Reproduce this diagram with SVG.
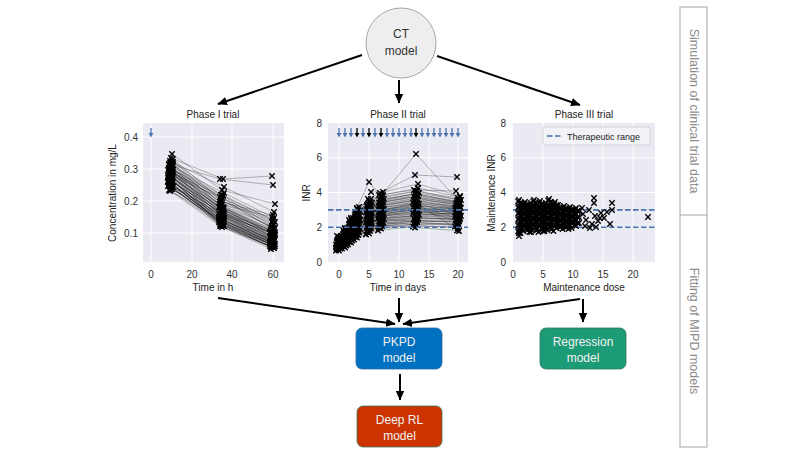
<svg xmlns="http://www.w3.org/2000/svg" xmlns:xlink="http://www.w3.org/1999/xlink" width="800" height="450" viewBox="0 0 800 450">
<style>
text{font-family:"Liberation Sans",Arial,sans-serif}
.bg{fill:#eaeaf2}
.grid{stroke:#fff;stroke-width:1}
.tk{font-size:10px;fill:#333}
.ttl{font-size:10px;fill:#222;text-anchor:middle}
.lab{font-size:10px;fill:#222;text-anchor:middle}
.tr{fill:none;stroke:#000;stroke-opacity:0.3;stroke-width:0.9;marker-start:url(#x);marker-mid:url(#x);marker-end:url(#x)}
.pts{fill:none;stroke:none;marker-start:url(#x);marker-mid:url(#x);marker-end:url(#x)}
.thr{stroke:#4c72b0;stroke-width:1.7;stroke-dasharray:5.5 2.5;fill:none}
.con{stroke:#000;stroke-width:2;fill:none;marker-end:url(#ah)}
.box{font-size:12px;fill:#f2f2f2;text-anchor:middle}
.side{font-size:12.5px;fill:#8c8c8c;text-anchor:middle}
</style>
<defs>
<marker id="x" markerUnits="userSpaceOnUse" markerWidth="8" markerHeight="8" refX="4" refY="4" viewBox="0 0 8 8" overflow="visible"><path d="M1.3,1.3L6.7,6.7M1.3,6.7L6.7,1.3" stroke="#000" stroke-width="1.4" fill="none"/></marker>
<marker id="ah" markerUnits="userSpaceOnUse" markerWidth="10" markerHeight="10" refX="9" refY="5" viewBox="0 0 10 10" orient="auto"><path d="M0,0.8L9.5,5L0,9.2z" fill="#000"/></marker>
<g id="dA"><line x1="0" y1="-5" x2="0" y2="1" stroke-width="1.3"/><path d="M-2.4,0L2.4,0L0,4.5z" stroke="none"/></g>
</defs>

<g id="connectors">
<line class="con" x1="362" y1="55" x2="218" y2="104"/>
<line class="con" x1="399" y1="80" x2="399" y2="103"/>
<line class="con" x1="437" y1="56" x2="580" y2="105"/>
<line class="con" x1="218" y1="298" x2="395" y2="324"/>
<line class="con" x1="399" y1="298" x2="399" y2="322"/>
<line class="con" x1="580" y1="299" x2="403" y2="324"/>
<line class="con" x1="583" y1="299" x2="583" y2="322"/>
<line class="con" x1="400" y1="374" x2="400" y2="400"/>
</g>

<g id="ct-model">
<circle cx="401" cy="43" r="35" fill="#eeeeee" stroke="#a6a6a6" stroke-width="1"/>
<text x="401" y="38" style="font-size:12px;fill:#333;text-anchor:middle">CT</text>
<text x="401" y="55" style="font-size:12px;fill:#333;text-anchor:middle">model</text>
</g>

<g id="phase1">
<text class="ttl" x="213" y="118">Phase I trial</text>
<rect class="bg" x="143" y="123" width="141" height="139"/>
<g class="grid">
<line x1="151" y1="123" x2="151" y2="262"/><line x1="192" y1="123" x2="192" y2="262"/><line x1="232" y1="123" x2="232" y2="262"/><line x1="273" y1="123" x2="273" y2="262"/>
<line x1="143" y1="137" x2="284" y2="137"/><line x1="143" y1="169" x2="284" y2="169"/><line x1="143" y1="201" x2="284" y2="201"/><line x1="143" y1="233" x2="284" y2="233"/>
</g>
<g class="tk" text-anchor="end">
<text x="138" y="141">0.4</text><text x="138" y="173">0.3</text><text x="138" y="205">0.2</text><text x="138" y="237">0.1</text>
</g>
<g class="tk" text-anchor="middle">
<text x="151" y="278">0</text><text x="192" y="278">20</text><text x="232" y="278">40</text><text x="273" y="278">60</text>
</g>
<text class="lab" x="213" y="291">Time in h</text>
<text class="lab" transform="translate(116,193) rotate(-90)">Concentration in mg/L</text>
<use xlink:href="#dA" x="151" y="133" stroke="#4c72b0" fill="#4c72b0"/>
<g id="p1core">
<polyline class="tr" points="172,160 222,205 275,228"/>
<polyline class="tr" points="170,163 224,208 274,232"/>
<polyline class="tr" points="173,165 221,200 273,225"/>
<polyline class="tr" points="171,167 223,212 272,236"/>
<polyline class="tr" points="169,168 220,215 271,240"/>
<polyline class="tr" points="172,170 222,210 275,233"/>
<polyline class="tr" points="170,171 224,218 274,242"/>
<polyline class="tr" points="173,172 221,205 273,230"/>
<polyline class="tr" points="171,173 223,213 272,238"/>
<polyline class="tr" points="169,174 220,220 271,244"/>
<polyline class="tr" points="172,175 222,209 275,235"/>
<polyline class="tr" points="170,176 224,216 274,240"/>
<polyline class="tr" points="173,177 221,222 273,245"/>
<polyline class="tr" points="171,178 223,211 272,237"/>
<polyline class="tr" points="169,179 220,218 271,242"/>
<polyline class="tr" points="172,180 222,224 275,246"/>
<polyline class="tr" points="170,181 224,214 274,239"/>
<polyline class="tr" points="173,182 221,220 273,243"/>
<polyline class="tr" points="171,183 223,225 272,247"/>
<polyline class="tr" points="169,184 220,216 271,240"/>
<polyline class="tr" points="172,185 222,222 275,244"/>
<polyline class="tr" points="173,187 221,219 273,242"/>
<polyline class="tr" points="171,188 223,223 272,245"/>
<polyline class="tr" points="172,169 222,198 275,222"/>
<polyline class="tr" points="170,166 224,193 274,218"/>
<polyline class="tr" points="173,162 221,195 273,220"/>
<polyline class="tr" points="173,170 221,202 273,215"/>
<polyline class="tr" points="171,173 223,196 272,226"/>
<polyline class="tr" points="169,176 220,205 271,231"/>
<polyline class="tr" points="172,187 222,214 275,235"/>
<polyline class="tr" points="171,168 223,207 272,234"/>
<polyline class="tr" points="169,180 220,212 271,230"/>
</g>
<use xlink:href="#p1core" transform="translate(-1,2)"/>
<polyline class="tr" points="170,186 224,226 274,248"/>
<polyline class="tr" points="169,190 220,226 271,247"/>
<polyline class="tr" points="171,158 223,179 272,176"/>
<polyline class="tr" points="169,164 220,179 273,185"/>
<polyline class="tr" points="172,154 222,190 275,204"/>
<polyline class="tr" points="170,161 224,187 274,212"/>
<polyline class="tr" points="170,191 224,221 274,240"/>
<polyline class="tr" points="173,159 221,200 273,228"/>
</g>

<g id="phase2">
<text class="ttl" x="398" y="118">Phase II trial</text>
<rect class="bg" x="328" y="123" width="140" height="139"/>
<g class="grid">
<line x1="339" y1="123" x2="339" y2="262"/><line x1="369" y1="123" x2="369" y2="262"/><line x1="399" y1="123" x2="399" y2="262"/><line x1="429" y1="123" x2="429" y2="262"/><line x1="458" y1="123" x2="458" y2="262"/>
<line x1="328" y1="157.75" x2="468" y2="157.75"/><line x1="328" y1="192.5" x2="468" y2="192.5"/><line x1="328" y1="227.25" x2="468" y2="227.25"/>
</g>
<g class="tk" text-anchor="end">
<text x="322" y="127">8</text><text x="322" y="161">6</text><text x="322" y="196">4</text><text x="322" y="231">2</text><text x="322" y="266">0</text>
</g>
<g class="tk" text-anchor="middle">
<text x="339" y="278">0</text><text x="369" y="278">5</text><text x="399" y="278">10</text><text x="429" y="278">15</text><text x="458" y="278">20</text>
</g>
<text class="lab" x="398" y="291">Time in days</text>
<text class="lab" transform="translate(310,193) rotate(-90)">INR</text>
<g stroke="#4c72b0" fill="#4c72b0">
<use xlink:href="#dA" x="339" y="133"/><use xlink:href="#dA" x="345" y="133"/><use xlink:href="#dA" x="351" y="133"/>
<use xlink:href="#dA" x="363" y="133"/><use xlink:href="#dA" x="375" y="133"/>
<use xlink:href="#dA" x="387" y="133"/><use xlink:href="#dA" x="393" y="133"/><use xlink:href="#dA" x="399" y="133"/><use xlink:href="#dA" x="405" y="133"/><use xlink:href="#dA" x="411" y="133"/>
<use xlink:href="#dA" x="422" y="133"/><use xlink:href="#dA" x="428" y="133"/><use xlink:href="#dA" x="434" y="133"/><use xlink:href="#dA" x="440" y="133"/><use xlink:href="#dA" x="446" y="133"/><use xlink:href="#dA" x="452" y="133"/><use xlink:href="#dA" x="458" y="133"/>
</g>
<g stroke="#000" fill="#000">
<use xlink:href="#dA" x="357" y="133"/><use xlink:href="#dA" x="369" y="133"/><use xlink:href="#dA" x="381" y="133"/><use xlink:href="#dA" x="416" y="133"/>
</g>
<g id="p2core">
<polyline class="tr" points="337,248 343,246 349,242 355,237 367,232 379,228 414,224 456,224"/>
<polyline class="tr" points="340,248 346,245 352,240 358,235 370,231 382,226 417,222 459,221"/>
<polyline class="tr" points="339,247 345,244 351,239 357,233 369,228 381,224 416,220 458,223"/>
<polyline class="tr" points="341,246 347,243 353,238 359,232 371,226 383,222 418,218 460,219"/>
<polyline class="tr" points="338,246 344,242 350,236 356,230 368,224 380,219 415,216 457,217"/>
<polyline class="tr" points="340,245 346,241 352,235 358,228 370,222 382,218 417,214 459,215"/>
<polyline class="tr" points="337,245 343,240 349,234 355,226 367,220 379,216 414,211 456,214"/>
<polyline class="tr" points="339,244 345,239 351,232 357,225 369,218 381,214 416,209 458,212"/>
<polyline class="tr" points="341,243 347,238 353,231 359,223 371,216 383,212 418,207 460,211"/>
<polyline class="tr" points="338,243 344,237 350,229 356,221 368,214 380,210 415,205 457,209"/>
<polyline class="tr" points="340,242 346,236 352,228 358,219 370,212 382,208 417,203 459,207"/>
<polyline class="tr" points="337,242 343,235 349,227 355,217 367,210 379,206 414,200 456,206"/>
<polyline class="tr" points="339,241 345,234 351,225 357,216 369,208 381,204 416,198 458,205"/>
<polyline class="tr" points="341,240 347,233 353,224 359,214 371,206 383,202 418,196 460,203"/>
<polyline class="tr" points="338,240 344,232 350,222 356,212 368,204 380,200 415,194 457,201"/>
<polyline class="tr" points="340,239 346,231 352,221 358,210 370,202 382,198 417,191 459,200"/>
<polyline class="tr" points="339,244 345,240 351,236 357,230 369,225 381,222 416,225 458,228"/>
<polyline class="tr" points="340,242 346,236 352,230 358,222 370,220 382,216 417,213 459,210"/>
<polyline class="tr" points="338,246 344,241 350,233 356,224 368,217 380,213 415,206 457,218"/>
</g>
<use xlink:href="#p2core" transform="translate(1,-3)"/>
<use xlink:href="#p2core" transform="translate(-1,2.5)"/>
<polyline class="tr" points="339,238 345,228 351,218 357,208 369,182 381,196 416,154 458,200"/>
<polyline class="tr" points="338,241 344,233 350,223 356,213 368,199 380,193 415,175 457,177"/>
<polyline class="tr" points="341,244 347,236 353,226 359,215 371,192 383,192 418,184 460,196"/>
<polyline class="tr" points="340,247 346,240 352,233 358,226 370,214 382,211 417,203 459,231"/>
<polyline class="tr" points="337,236 343,230 349,220 355,212 367,205 379,195 414,190 456,191"/>
<line class="thr" x1="328" y1="209.9" x2="468" y2="209.9"/>
<line class="thr" x1="328" y1="227.25" x2="468" y2="227.25"/>
</g>

<g id="phase3">
<text class="ttl" x="584" y="118">Phase III trial</text>
<rect class="bg" x="513" y="123" width="142" height="139"/>
<g class="grid">
<line x1="543" y1="123" x2="543" y2="262"/><line x1="573" y1="123" x2="573" y2="262"/><line x1="603" y1="123" x2="603" y2="262"/><line x1="633" y1="123" x2="633" y2="262"/>
<line x1="513" y1="157.75" x2="655" y2="157.75"/><line x1="513" y1="192.5" x2="655" y2="192.5"/><line x1="513" y1="227.25" x2="655" y2="227.25"/>
</g>
<g class="tk" text-anchor="end">
<text x="506" y="127">8</text><text x="506" y="161">6</text><text x="506" y="196">4</text><text x="506" y="231">2</text><text x="506" y="266">0</text>
</g>
<g class="tk" text-anchor="middle">
<text x="513" y="278">0</text><text x="543" y="278">5</text><text x="573" y="278">10</text><text x="603" y="278">15</text><text x="633" y="278">20</text>
</g>
<text class="lab" x="584" y="291">Maintenance dose</text>
<text class="lab" transform="translate(495,193) rotate(-90)">Maintenance INR</text>
<line class="thr" x1="513" y1="209.9" x2="655" y2="209.9"/>
<line class="thr" x1="513" y1="227.25" x2="655" y2="227.25"/>
<polyline id="p3core" class="pts" points="519,200 519,206 519,212 519,218 519,224 519,230 522,204 522,210 522,216 522,222 522,228 525,207 525,213 525,219 525,225 525,202 528,205 528,211 528,217 528,223 528,229 531,203 531,209 531,215 531,221 531,227 534,206 534,212 534,218 534,224 534,200 537,204 537,210 537,216 537,222 537,229 540,207 540,213 540,219 540,225 540,201 543,205 543,211 543,217 543,223 543,228 546,203 546,209 546,215 546,221 546,227 549,206 549,212 549,218 549,224 549,199 552,204 552,210 552,216 552,222 552,228 555,207 555,213 555,219 555,225 555,202 558,205 558,211 558,217 558,223 561,208 561,214 561,220 561,226 564,206 564,212 564,218 564,224 567,209 567,215 567,221 567,226 570,207 570,213 570,219 570,225 573,210 573,216 573,222 576,208 576,214 576,220"/>
<use xlink:href="#p3core" transform="translate(1.5,3)"/>
<use xlink:href="#p3core" transform="translate(-0.8,1.5)"/>
<polyline class="pts" points="519,236 579,211 579,217 579,223 576,226 583,214 586,220 589,210 592,224 595,216 598,221 601,213 596,227 604,218 607,212 610,224 594,198 594,203 612,203 612,210 648,217 531,232 543,231 519,233 585,226 600,218 582,208 590,228"/>
<g id="legend">
<rect x="543" y="127" width="107" height="18" rx="2" fill="#f4f4f8" fill-opacity="0.85" stroke="#cccccc" stroke-width="0.8"/>
<line class="thr" x1="547" y1="136" x2="563" y2="136"/>
<text x="567" y="139.5" style="font-size:9px;fill:#222">Therapeutic range</text>
</g>
</g>

<g id="pkpd-model">
<rect x="356" y="328" width="86" height="41" rx="6" fill="#0070c0" stroke="#2e6aa3" stroke-width="0.8"/>
<text class="box" x="399" y="346">PKPD</text>
<text class="box" x="399" y="362">model</text>
</g>
<g id="regression-model">
<rect x="540" y="328" width="86" height="41" rx="6" fill="#1d9a76" stroke="#2f7a60" stroke-width="0.8"/>
<text class="box" x="583" y="346">Regression</text>
<text class="box" x="583" y="362">model</text>
</g>
<g id="deeprl-model">
<rect x="357" y="406" width="85" height="41" rx="6" fill="#cc3300" stroke="#3f7a5e" stroke-width="0.8"/>
<text class="box" x="399.5" y="424">Deep RL</text>
<text class="box" x="399.5" y="440">model</text>
</g>

<g id="stage-labels">
<rect x="680" y="7" width="27" height="440" fill="none" stroke="#a6a6a6" stroke-width="1"/>
<line x1="680" y1="215" x2="707" y2="215" stroke="#a6a6a6" stroke-width="1"/>
<text class="side" transform="translate(693.5,111) rotate(90)" dominant-baseline="central">Simulation of clinical trial data</text>
<text class="side" transform="translate(693.5,331) rotate(90)" dominant-baseline="central">Fitting of MIPD models</text>
</g>
</svg>
